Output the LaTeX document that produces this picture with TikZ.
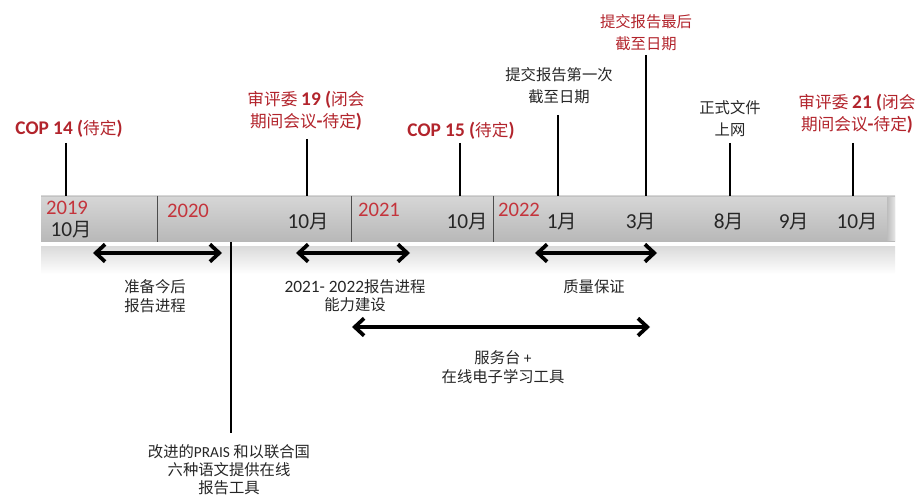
\documentclass[tikz,border=0pt]{standalone}
\usepackage{fontspec}
\usepackage{tikz}
\usetikzlibrary{arrows.meta}
\usepackage{xcolor}
\setmainfont{Noto Sans CJK SC}
\newfontfamily\lat{Carlito}
\definecolor{tlred}{RGB}{178,36,44}
\definecolor{yrred}{RGB}{196,52,60}
\tikzset{
  toplabel/.style={inner sep=0.75pt, align=center, font=\fontsize{12.5}{16.5}\selectfont},
  lowlabel/.style={inner sep=0.75pt, align=center, font=\fontsize{11.5}{13.8}\selectfont, text=black!85},
  yearlabel/.style={inner sep=0.75pt, font=\lat\fontsize{15.5}{18}\selectfont, text=yrred},
  monthlabel/.style={inner sep=0.75pt, font=\fontsize{14.5}{16}\selectfont, text=black!85},
  tick/.style={line width=1.1pt},
  twoway/.style={{Straight Barb[length=7pt,width=13pt]}-{Straight Barb[length=7pt,width=13pt]}, line width=2.8pt}
}
\begin{document}
\begin{tikzpicture}[x=0.75pt,y=0.75pt,yscale=-1,xscale=1]
%set diagram left start at 0, and has height of 498
\path[use as bounding box] (0,0) rectangle (924,498);

%Shape: Rectangle (reflection)
\shade [top color=black!14, bottom color=white] (41,247) rectangle (895,274);
%Shape: Rectangle (bar)
\shade [top color=black!16, bottom color=black!28] (41,196) rectangle (895,242);
\shade [left color=black!26, right color=black!10] (887,197) rectangle (895,241);
\draw [black!24, line width=0.6pt] (41,196.5) -- (895,196.5);
\coordinate (bartop) at (0,196);
\coordinate (barbot) at (0,242);

%Straight Lines (dividers)
\draw [black!70, line width=0.6pt] (157,196) -- (157,242);
\draw [black!70, line width=0.6pt] (351,196) -- (351,242);
\draw [black!70, line width=0.6pt] (493,196) -- (493,242);

% Text Node (years)
\node (y19) at (67,208) [yearlabel] {2019};
\node (y20) at (188,211) [yearlabel] {2020};
\node (y21) at (379,210) [yearlabel] {2021};
\node (y22) at (519,210) [yearlabel] {2022};

% Text Node (months)
\node (m1) at (71,230) [monthlabel] {{\lat\fontsize{16}{16}\selectfont 10}月};
\node (m2) at (308,222) [monthlabel] {{\lat\fontsize{16}{16}\selectfont 10}月};
\node (m3) at (467,222) [monthlabel] {{\lat\fontsize{16}{16}\selectfont 10}月};
\node (m4) at (562,222) [monthlabel] {{\lat\fontsize{16}{16}\selectfont 1}月};
\node (m5) at (641,222) [monthlabel] {{\lat\fontsize{16}{16}\selectfont 3}月};
\node (m6) at (729,222) [monthlabel] {{\lat\fontsize{16}{16}\selectfont 8}月};
\node (m7) at (794,222) [monthlabel] {{\lat\fontsize{16}{16}\selectfont 9}月};
\node (m8) at (857,222) [monthlabel] {{\lat\fontsize{16}{16}\selectfont 10}月};

% Text Node (events above)
\node (cop14) at (69,129) [toplabel, text=tlred] {{\lat\bfseries\fontsize{14.5}{16}\selectfont COP 14 (}待定{\lat\bfseries\fontsize{14.5}{16}\selectfont )}};
\node (srv19) at (306,111) [toplabel, text=tlred] {审评委 {\lat\bfseries\fontsize{14.5}{16}\selectfont 19 (}闭会\\期间会议{\lat\bfseries\fontsize{14.5}{16}\selectfont -}待定{\lat\bfseries\fontsize{14.5}{16}\selectfont )}};
\node (cop15) at (461,131) [toplabel, text=tlred] {{\lat\bfseries\fontsize{14.5}{16}\selectfont COP 15 (}待定{\lat\bfseries\fontsize{14.5}{16}\selectfont )}};
\node (first) at (559,86) [toplabel, text=black!85, font=\fontsize{11.5}{16.5}\selectfont] {提交报告第一次\\截至日期};
\node (final) at (646,33) [toplabel, text=tlred, font=\fontsize{11.5}{16.5}\selectfont] {提交报告最后\\截至日期};
\node (doc) at (730,119) [toplabel, text=black!85, font=\fontsize{11.5}{16.5}\selectfont] {正式文件\\上网};
\node (srv21) at (857,114) [toplabel, text=tlred] {审评委 {\lat\bfseries\fontsize{14.5}{16}\selectfont 21 (}闭会\\期间会议{\lat\bfseries\fontsize{14.5}{16}\selectfont -}待定{\lat\bfseries\fontsize{14.5}{16}\selectfont )}};

%Straight Lines (ticks)
\coordinate (t1) at (66,143);
\coordinate (t2) at (307,139);
\coordinate (t3) at (460,143);
\coordinate (t4) at (558,115);
\coordinate (t5) at (646,55);
\coordinate (t6) at (730,143);
\coordinate (t7) at (853,143);
\foreach \t in {t1,t2,t3,t4,t5,t6,t7}
  \draw [tick] (\t) -- (\t |- bartop);

%Straight Lines (PRAIS)
\coordinate (p1) at (231,433);
\draw [tick] (p1 |- barbot) -- (p1);

%Straight Lines (arrows)
\coordinate (a1) at (93,253);
\coordinate (b1) at (222,253);
\coordinate (a2) at (296,253);
\coordinate (b2) at (410,253);
\coordinate (a3) at (535,253);
\coordinate (b3) at (657,253);
\coordinate (a4) at (352,327);
\coordinate (b4) at (650,327);
\draw [twoway] (a1) -- (b1);
\draw [twoway] (a2) -- (b2);
\draw [twoway] (a3) -- (b3);
\draw [twoway] (a4) -- (b4);

% Text Node (below)
\node (prep) at (155,296) [lowlabel] {准备今后\\报告进程};
\node (cap) at (355,296) [lowlabel] {{\lat\fontsize{13}{14}\selectfont 2021- 2022}报告进程\\能力建设};
\node (qa) at (594,287) [lowlabel] {质量保证};
\node (help) at (503,367) [lowlabel] {服务台 {\lat +}\\在线电子学习工具};
\node (prais) at (229,470) [lowlabel, font=\fontsize{11.5}{13.5}\selectfont] {改进的{\lat PRAIS} 和以联合国\\六种语文提供在线\\报告工具};

\end{tikzpicture}
\end{document}
